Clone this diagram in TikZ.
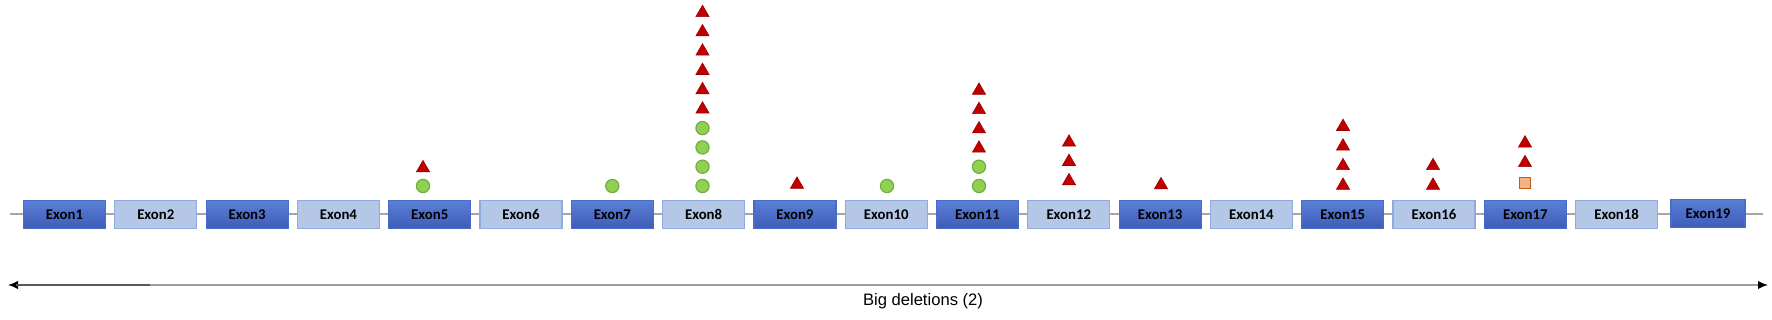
\documentclass[tikz,border=0pt]{standalone}
\usepackage{fontspec}
\setmainfont{Liberation Sans}
\newfontfamily\exonfont{Carlito}
\usepackage{tikz}
\usetikzlibrary{arrows.meta,positioning,calc,shapes.geometric}
\usepackage{xcolor}
\definecolor{ExonTop}{HTML}{5B7FD6}
\definecolor{ExonBot}{HTML}{3E5CB8}
\definecolor{ExonEdge}{HTML}{4A6CC9}
\definecolor{ExonPale}{HTML}{B4C7E7}
\definecolor{ExonPaleEdge}{HTML}{8FAADC}
\definecolor{MutRed}{HTML}{C00000}
\definecolor{MutGreen}{HTML}{92D050}
\definecolor{MutGreenEdge}{HTML}{70AD47}
\definecolor{MutOrange}{HTML}{F4B183}
\definecolor{MutOrangeEdge}{HTML}{C55A11}

\tikzset{
  exonbox/.style={minimum width=41pt,minimum height=14pt,inner sep=0pt,line width=0.6pt,
    font=\exonfont\bfseries\fontsize{7.4}{8}\selectfont},
  exondark/.style={exonbox,draw=ExonEdge,top color=ExonTop,bottom color=ExonBot},
  exonlight/.style={exonbox,draw=ExonPaleEdge,fill=ExonPale},
  redtri/.style={regular polygon,regular polygon sides=3,minimum size=7.6pt,inner sep=0pt,
    fill=MutRed,draw=MutRed!80!black,line width=0.3pt},
  greendot/.style={circle,minimum size=6.6pt,inner sep=0pt,fill=MutGreen,draw=MutGreenEdge,line width=0.6pt},
  orangesq/.style={rectangle,minimum size=5.8pt,inner sep=0pt,fill=MutOrange,draw=MutOrangeEdge,line width=0.6pt},
  backbone/.style={draw=black!35,line width=0.8pt}
}

\begin{document}
\begin{tikzpicture}[x=0.5pt,y=-0.5pt]
    \useasboundingbox (0,0) rectangle (1772,320);
    % gene backbone
    \coordinate (bbstart) at (10,214);
    \coordinate (bbend) at (1763,214);
    \draw[backbone] (bbstart) -- (bbend);
    % exons
    \foreach \i in {1,3,...,17}
      \node[exondark] (exon\i) at ({64.5+(\i-1)*91.3},214.5) {Exon\i};
    \foreach \i in {2,4,...,18}
      \node[exonlight] (exon\i) at ({64.5+(\i-1)*91.3},214.5) {Exon\i};
    \node[exondark,minimum width=37pt] (exon19) at (1708,213.5) {Exon19};
    % variants above exons
    \node[greendot] (e5d0) at (423,186) {};
    \node[redtri] (e5t1) at (423,168) {};
    \node[greendot] (e7d0) at (612.3,186) {};
    \foreach \k in {0,...,3}
      \node[greendot] (e8d\k) at (702.5,{186-19.3*\k}) {};
    \foreach \k in {4,...,9}
      \node[redtri] (e8t\k) at (702.5,{186.5-19.3*\k}) {};
    \node[redtri] (e9t0) at (797,184.5) {};
    \node[greendot] (e10d0) at (887,186) {};
    \foreach \k in {0,1}
      \node[greendot] (e11d\k) at (979,{186-19.3*\k}) {};
    \foreach \k in {2,...,5}
      \node[redtri] (e11t\k) at (979,{187-19.3*\k}) {};
    \foreach \k in {0,...,2}
      \node[redtri] (e12t\k) at (1069,{181-19.3*\k}) {};
    \node[redtri] (e13t0) at (1161,185) {};
    \foreach \k in {0,...,3}
      \node[redtri] (e15t\k) at (1343,{185.5-19.6*\k}) {};
    \foreach \k in {0,1}
      \node[redtri] (e16t\k) at (1433,{185.5-19.6*\k}) {};
    \node[orangesq] (e17s0) at (1525,183) {};
    \foreach \k in {1,2}
      \node[redtri] (e17t\k) at (1525,{182.5-19.6*\k}) {};
    % big deletions
    \coordinate (delL) at (8,285);
    \coordinate (delR) at (1768,285);
    \coordinate (delmid) at (150,285);
    \draw[{Latex[length=5pt,width=4.2pt,black]}-{Latex[length=5pt,width=4.2pt,black]},draw=black!38,line width=0.7pt] (delL) -- (delR);
    \draw[draw=black!65,line width=0.7pt] ($(delL)+(8,0)$) -- (delmid);
    \node[font=\fontsize{8.3}{10}\selectfont] (dellabel) at (923,301) {Big deletions (2)};
  \end{tikzpicture}
\end{document}
